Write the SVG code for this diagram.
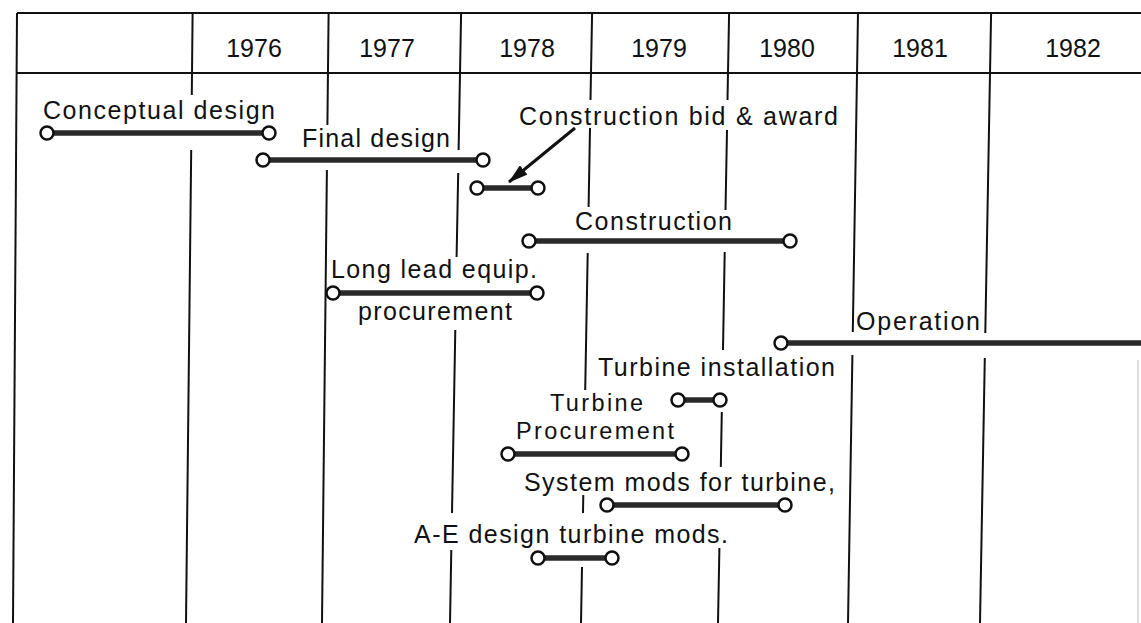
<svg xmlns="http://www.w3.org/2000/svg" width="1141" height="623" viewBox="0 0 1141 623">
<defs>
<style>
.grid{stroke:#111;stroke-width:2;fill:none}
.bar{stroke:#2a2a2a;stroke-width:5.5;stroke-linecap:butt}
.end{fill:#fff;stroke:#111;stroke-width:2.5}
.yr{font-family:"Liberation Sans",Arial,sans-serif;font-size:25px;fill:#111;text-anchor:middle}
.lbl{font-family:"Liberation Sans",Arial,sans-serif;font-size:25px;fill:#111}
.sm{font-size:23.5px}
</style>
<marker id="ah" viewBox="0 0 20 12" refX="19" refY="6" markerWidth="20" markerHeight="12" markerUnits="userSpaceOnUse" orient="auto">
<path d="M0,0 L20,6 L0,12 Z" fill="#111"/>
</marker>
</defs>
<rect width="1141" height="623" fill="#fff"/>
<g id="grid" class="grid">
<line x1="17" y1="13" x2="1141" y2="13"/>
<line x1="17" y1="73" x2="1141" y2="73"/>
<line x1="17" y1="13" x2="13" y2="623"/>
<line x1="1138" y1="360" x2="1138" y2="623" stroke="#bbb" stroke-width="1"/>
<line x1="192.6" y1="13" x2="191.8" y2="95"/>
<line x1="191.2" y1="150" x2="186" y2="623"/>
<line x1="328.6" y1="13" x2="327.4" y2="125"/>
<line x1="326.9" y1="170" x2="322" y2="623"/>
<line x1="461.1" y1="13" x2="458.6" y2="150"/>
<line x1="458.2" y1="173" x2="456.6" y2="257"/>
<line x1="455.3" y1="330" x2="452" y2="513"/>
<line x1="451.3" y1="550" x2="450" y2="623"/>
<line x1="592.1" y1="13" x2="590.5" y2="100"/>
<line x1="590" y1="128" x2="588.6" y2="207"/>
<line x1="587.7" y1="253" x2="585.2" y2="390"/>
<line x1="583.3" y1="495" x2="583" y2="513"/>
<line x1="582" y1="567" x2="581" y2="623"/>
<line x1="729.1" y1="13" x2="727.5" y2="100"/>
<line x1="727" y1="130" x2="725.5" y2="210"/>
<line x1="724.7" y1="252" x2="723" y2="350"/>
<line x1="721.8" y1="412" x2="720.8" y2="467"/>
<line x1="719.4" y1="548" x2="718" y2="623"/>
<line x1="858" y1="13" x2="852.8" y2="332"/>
<line x1="852.4" y1="355" x2="848" y2="623"/>
<line x1="991.1" y1="13" x2="985.3" y2="333"/>
<line x1="984.8" y1="358" x2="980" y2="623"/>
</g>
<g id="years">
<text class="yr" x="254" y="57">1976</text>
<text class="yr" x="387" y="57">1977</text>
<text class="yr" x="527" y="57">1978</text>
<text class="yr" x="659" y="57">1979</text>
<text class="yr" x="787" y="57">1980</text>
<text class="yr" x="920" y="57">1981</text>
<text class="yr" x="1073" y="57">1982</text>
</g>
<g id="conceptual-design">
<text class="lbl" x="43" y="119" textLength="232" lengthAdjust="spacing">Conceptual design</text>
<line class="bar" x1="47" y1="133" x2="269" y2="133"/>
<circle class="end" cx="47" cy="133" r="6.5"/><circle class="end" cx="269" cy="133" r="6.5"/>
</g>
<g id="final-design">
<text class="lbl" x="302" y="147" textLength="148" lengthAdjust="spacing">Final design</text>
<line class="bar" x1="263" y1="160" x2="483" y2="160"/>
<circle class="end" cx="263" cy="160" r="6.5"/><circle class="end" cx="483" cy="160" r="6.5"/>
</g>
<g id="construction-bid-award">
<text class="lbl" x="519" y="125" textLength="319" lengthAdjust="spacing">Construction bid &amp; award</text>
<line class="bar" x1="477" y1="188" x2="538" y2="188"/>
<circle class="end" cx="477" cy="188" r="6.5"/><circle class="end" cx="538" cy="188" r="6.5"/>
</g>
<g id="construction">
<text class="lbl" x="575" y="230" textLength="157" lengthAdjust="spacing">Construction</text>
<line class="bar" x1="529" y1="241" x2="790" y2="241"/>
<circle class="end" cx="529" cy="241" r="6.5"/><circle class="end" cx="790" cy="241" r="6.5"/>
</g>
<g id="long-lead-procurement">
<text class="lbl" x="331" y="278" textLength="206" lengthAdjust="spacing">Long lead equip.</text>
<text class="lbl" x="358" y="320" textLength="154" lengthAdjust="spacing">procurement</text>
<line class="bar" x1="333" y1="293" x2="537" y2="293"/>
<circle class="end" cx="333" cy="293" r="6.5"/><circle class="end" cx="537" cy="293" r="6.5"/>
</g>
<g id="operation">
<text class="lbl" x="856" y="330" textLength="124" lengthAdjust="spacing">Operation</text>
<line class="bar" x1="781" y1="343" x2="1141" y2="343"/>
<circle class="end" cx="781" cy="343" r="6.5"/>
</g>
<g id="turbine-installation">
<text class="lbl" x="598" y="376" textLength="237" lengthAdjust="spacing">Turbine installation</text>
<line class="bar" x1="678" y1="400" x2="720" y2="400"/>
<circle class="end" cx="678" cy="400" r="6.5"/><circle class="end" cx="720" cy="400" r="6.5"/>
</g>
<g id="turbine-procurement">
<text class="lbl sm" x="550" y="411" textLength="93" lengthAdjust="spacing">Turbine</text>
<text class="lbl sm" x="516" y="439" textLength="158" lengthAdjust="spacing">Procurement</text>
<line class="bar" x1="508" y1="454" x2="682" y2="454"/>
<circle class="end" cx="508" cy="454" r="6.5"/><circle class="end" cx="682" cy="454" r="6.5"/>
</g>
<g id="system-mods">
<text class="lbl" x="524" y="491" textLength="311" lengthAdjust="spacing">System mods for turbine,</text>
<line class="bar" x1="607" y1="505" x2="785" y2="505"/>
<circle class="end" cx="607" cy="505" r="6.5"/><circle class="end" cx="785" cy="505" r="6.5"/>
</g>
<g id="ae-design">
<text class="lbl" x="414" y="543" textLength="314" lengthAdjust="spacing">A-E design turbine mods.</text>
<line class="bar" x1="538" y1="558" x2="612" y2="558"/>
<circle class="end" cx="538" cy="558" r="6.5"/><circle class="end" cx="612" cy="558" r="6.5"/>
</g>
<g id="connectors">
<line x1="575" y1="128" x2="509" y2="182" stroke="#111" stroke-width="3" marker-end="url(#ah)"/>
</g>
</svg>
